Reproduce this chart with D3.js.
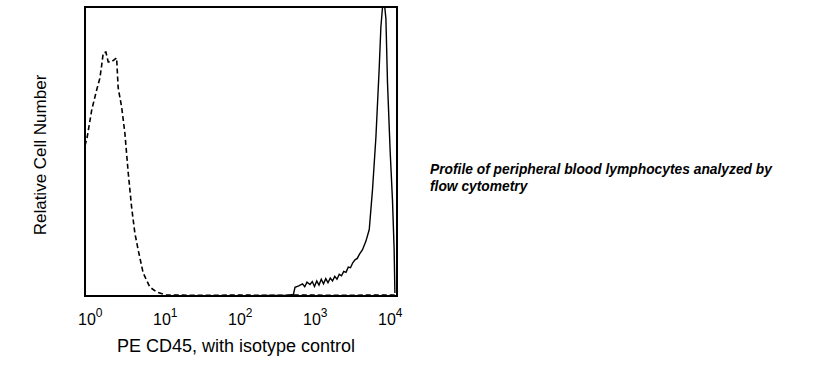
<!DOCTYPE html>
<html lang="en">
<head>
    <meta charset="UTF-8">
    <title>PE CD45 histogram</title>
    <script src="https://cdn.jsdelivr.net/npm/d3@7"></script>
    <style>
        body { margin: 0; background: #fff; }
        text { font-family: "Liberation Sans", Arial, sans-serif; }
    </style>
</head>
<body>
    <svg id="chart"></svg>
<script>
    // isotype control (dashed), fluorescence value vs relative count (0-100)
    var isoX = [1.0, 1.07, 1.23, 1.43, 1.58, 1.67, 1.75, 1.9, 2.04, 2.26, 2.64, 2.77, 3.08, 3.4, 3.77, 4.18, 4.62, 5.12, 5.96, 7.31, 8.97, 12.2,
                20, 40, 80, 150, 300, 600, 1200, 2500, 5000, 10000, 14500];
    var isoY = [52, 55, 64.4, 71.3, 75.4, 79.9, 84.1, 84.4, 81, 81, 82.4, 72, 65.4, 56.4, 42.6, 30.8, 21.8, 15.9, 8, 3.1, 1.4, 0.3,
                0.3, 0.2, 0.3, 0.3, 0.2, 0.3, 0.3, 0.2, 0.3, 0.3, 0.3];

    // PE CD45 stained (solid)
    var cdX = [1.0, 100, 520, 600, 631, 708, 794, 851, 912, 1000, 1072, 1148, 1230, 1318, 1413, 1514, 1622, 1738, 1862, 1995,
               2138, 2291, 2455, 2630, 2818, 3020, 3236, 3467, 3715, 3981, 4266, 4571, 5012, 5572, 6166, 6823, 7568, 8375, 8810,
               9268, 9750, 10280, 10790, 11720, 12590, 13240, 13550];
    var cdY = [0, 0, 0.3, 0.5, 3.0, 3.5, 4.2, 3.2, 4.8, 4.0, 5.0, 3.3, 5.2, 3.8, 5.8, 4.2, 6.0, 4.6, 6.2, 5.2,
               6.8, 5.8, 7.5, 7.0, 8.5, 8.2, 10, 9.8, 11.5, 12.5, 13.0, 14.5, 16, 19, 23, 37, 55, 79, 93,
               100, 102, 96, 74, 50, 33, 16, 1];

    var tickValues = [1, 10, 100, 1000, 10000];
    var tickExp = ["0", "1", "2", "3", "4"];

    var width = 822, height = 370;
    var plotLeft = 85, plotRight = 397, plotTop = 7, plotBottom = 296;

    var svg = d3.select("#chart").attr("width", width).attr("height", height);

    var x = d3.scaleLog().domain([1, Math.pow(10, 4.16)]).range([plotLeft, plotRight]);
    var y = d3.scaleLinear().domain([0, 100]).range([plotBottom, plotTop]);

    svg.append("clipPath").attr("id", "plot-clip")
        .append("rect")
        .attr("x", plotLeft).attr("y", plotTop)
        .attr("width", plotRight - plotLeft).attr("height", plotBottom - plotTop);

    var line = d3.line()
        .x(d => x(d[0]))
        .y(d => y(d[1]));

    var g = svg.append("g").attr("clip-path", "url(#plot-clip)");

    g.append("path")
        .datum(d3.zip(isoX, isoY))
        .attr("d", line)
        .attr("fill", "none")
        .attr("stroke", "#000")
        .attr("stroke-width", 1.6)
        .attr("stroke-dasharray", "5,3");

    g.append("path")
        .datum(d3.zip(cdX, cdY))
        .attr("d", line)
        .attr("fill", "none")
        .attr("stroke", "#000")
        .attr("stroke-width", 1.4);

    // frame
    svg.append("rect")
        .attr("x", plotLeft).attr("y", plotTop)
        .attr("width", plotRight - plotLeft).attr("height", plotBottom - plotTop)
        .attr("fill", "none")
        .attr("stroke", "#000")
        .attr("stroke-width", 2);

    // tick labels 10^n
    var labels = svg.selectAll(".tick-label")
        .data(tickValues)
        .enter()
        .append("text")
        .attr("class", "tick-label")
        .attr("x", d => x(d) - 7)
        .attr("y", 325)
        .style("font-size", "16px")
        .style("fill", "#000");
    labels.append("tspan").text("10");
    labels.append("tspan")
        .attr("dy", -8)
        .style("font-size", "12px")
        .text((d, i) => tickExp[i]);

    svg.append("text")
        .attr("x", 236)
        .attr("y", 352)
        .attr("text-anchor", "middle")
        .style("font-size", "18px")
        .text("PE CD45, with isotype control");

    svg.append("text")
        .attr("transform", "translate(46,155) rotate(-90)")
        .attr("text-anchor", "middle")
        .style("font-size", "17px")
        .text("Relative Cell Number");

    var note = svg.append("text")
        .style("font-size", "13.8px")
        .style("font-weight", "bold")
        .style("font-style", "italic");
    note.append("tspan").attr("x", 430).attr("y", 174).text("Profile of peripheral blood lymphocytes analyzed by");
    note.append("tspan").attr("x", 430).attr("y", 191).text("flow cytometry");
</script>
</body>
</html>
